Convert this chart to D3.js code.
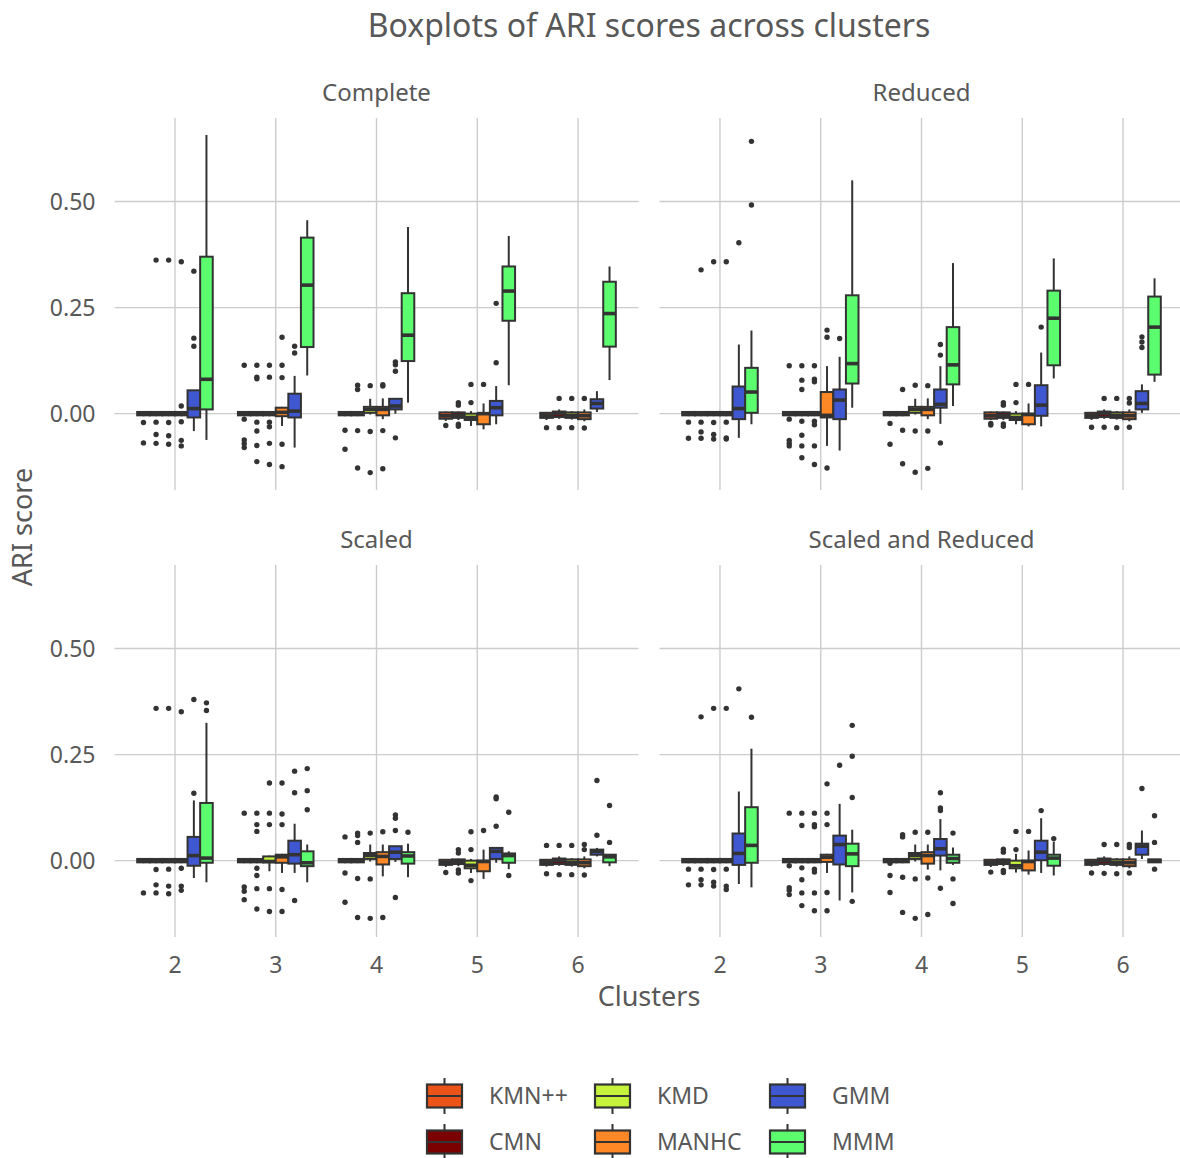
<!DOCTYPE html>
<html lang="en">
<head>
<meta charset="UTF-8">
<title>Boxplots of ARI scores across clusters</title>
<script src="https://d3js.org/d3.v7.min.js"></script>
<style>
    body { margin: 0; background: #fff; }
    text { font-family: "Noto Sans", sans-serif; fill: #585858; }
    .grid line { stroke: #cccccc; stroke-width: 1.4; }
</style>
</head>
<body>
<svg width="1180" height="1158"></svg>
<script>
const clusters = ["2", "3", "4", "5", "6"];
const methods = ["KMN++", "CMN", "KMD", "MANHC", "GMM", "MMM"];
const methodColors = ["#EC5318", "#7B0000", "#C5F23A", "#FF8826", "#3F58D2", "#5BFC6E"];
const panelNames = ["Complete", "Reduced", "Scaled", "Scaled and Reduced"];
const yTicks = [0, 0.25, 0.5];
const yTickLabels = ["0.00", "0.25", "0.50"];

// [cluster, method, lower whisker, q1, median, q3, upper whisker, outliers]
const complete = [
    ["2", "KMN++", -0.006, -0.004, 0, 0.004, 0.006, [-0.021, -0.069]],
    ["2", "CMN", -0.006, -0.004, 0, 0.004, 0.006, [0.362, -0.020, -0.049, -0.070]],
    ["2", "KMD", -0.006, -0.004, 0, 0.004, 0.006, [0.362, -0.021, -0.052, -0.072]],
    ["2", "MANHC", -0.006, -0.004, 0, 0.004, 0.006, [0.358, 0.018, -0.019, -0.063, -0.076]],
    ["2", "GMM", -0.041, -0.009, 0.012, 0.055, 0.055, [0.336, 0.178, 0.159]],
    ["2", "MMM", -0.062, 0.010, 0.081, 0.370, 0.657, []],
    ["3", "KMN++", -0.006, -0.004, 0, 0.004, 0.006, [0.114, -0.013, -0.062, -0.071, -0.080]],
    ["3", "CMN", -0.006, -0.004, 0, 0.004, 0.006, [0.114, 0.086, 0.082, -0.020, -0.041, -0.075, -0.113]],
    ["3", "KMD", -0.006, -0.004, 0, 0.004, 0.006, [0.114, 0.086, -0.020, -0.031, -0.070, -0.120]],
    ["3", "MANHC", -0.029, -0.006, 0.003, 0.014, 0.016, [0.180, 0.114, 0.085, -0.072, -0.125]],
    ["3", "GMM", -0.080, -0.009, 0.006, 0.047, 0.089, [0.159, 0.143]],
    ["3", "MMM", 0.090, 0.157, 0.303, 0.415, 0.456, []],
    ["4", "KMN++", -0.006, -0.004, 0, 0.004, 0.006, [-0.039, -0.084]],
    ["4", "CMN", -0.006, -0.004, 0, 0.004, 0.006, [0.067, 0.057, -0.040, -0.128]],
    ["4", "KMD", -0.002, 0.002, 0.010, 0.016, 0.035, [0.066, -0.042, -0.139]],
    ["4", "MANHC", -0.013, -0.004, 0.010, 0.016, 0.036, [0.068, 0.065, -0.040, -0.130]],
    ["4", "GMM", 0.000, 0.010, 0.018, 0.035, 0.035, [0.122, 0.115, 0.100, -0.057]],
    ["4", "MMM", 0.026, 0.124, 0.185, 0.284, 0.440, []],
    ["5", "KMN++", -0.017, -0.012, -0.005, 0.003, 0.005, [-0.028]],
    ["5", "CMN", -0.015, -0.010, -0.004, 0.003, 0.005, [0.026, 0.020, -0.025, -0.030]],
    ["5", "KMD", -0.029, -0.015, -0.009, 0.000, 0.006, [0.069, 0.026]],
    ["5", "MANHC", -0.037, -0.025, 0.000, 0.000, 0.024, [0.069]],
    ["5", "GMM", -0.025, -0.004, 0.014, 0.030, 0.065, [0.260, 0.120]],
    ["5", "MMM", 0.067, 0.219, 0.289, 0.347, 0.419, []],
    ["6", "KMN++", -0.015, -0.010, -0.004, 0.002, 0.004, [-0.033]],
    ["6", "CMN", -0.012, -0.008, 0.000, 0.005, 0.010, [0.036, -0.033]],
    ["6", "KMD", -0.014, -0.010, -0.004, 0.003, 0.006, [0.036, -0.033]],
    ["6", "MANHC", -0.018, -0.013, -0.005, 0.003, 0.010, [0.036, -0.034]],
    ["6", "GMM", 0.004, 0.012, 0.024, 0.034, 0.053, []],
    ["6", "MMM", 0.079, 0.158, 0.236, 0.311, 0.347, []]
];

const reduced = [
    ["2", "KMN++", -0.006, -0.004, 0, 0.004, 0.006, [-0.020, -0.058]],
    ["2", "CMN", -0.006, -0.004, 0, 0.004, 0.006, [0.339, -0.020, -0.043, -0.058]],
    ["2", "KMD", -0.006, -0.004, 0, 0.004, 0.006, [0.358, -0.021, -0.049, -0.060]],
    ["2", "MANHC", -0.006, -0.004, 0, 0.004, 0.006, [0.358, -0.020, -0.057, -0.060]],
    ["2", "GMM", -0.057, -0.013, 0.012, 0.064, 0.163, [0.403]],
    ["2", "MMM", -0.025, 0.002, 0.051, 0.108, 0.196, [0.642, 0.492]],
    ["3", "KMN++", -0.006, -0.004, 0, 0.004, 0.006, [0.113, -0.013, -0.063, -0.070, -0.076]],
    ["3", "CMN", -0.006, -0.004, 0, 0.004, 0.006, [0.113, 0.079, 0.057, -0.018, -0.051, -0.076, -0.104]],
    ["3", "KMD", -0.006, -0.004, 0, 0.004, 0.006, [0.113, 0.081, 0.075, -0.018, -0.026, -0.076, -0.120]],
    ["3", "MANHC", -0.076, -0.009, -0.004, 0.051, 0.112, [0.197, 0.180, -0.128]],
    ["3", "GMM", -0.087, -0.013, 0.032, 0.057, 0.134, [0.177]],
    ["3", "MMM", 0.014, 0.071, 0.118, 0.279, 0.550, []],
    ["4", "KMN++", -0.006, -0.004, 0, 0.004, 0.006, [-0.023, -0.072]],
    ["4", "CMN", -0.006, -0.004, 0, 0.004, 0.006, [0.057, -0.039, -0.118]],
    ["4", "KMD", -0.002, 0.002, 0.010, 0.016, 0.035, [0.067, -0.041, -0.138]],
    ["4", "MANHC", -0.013, -0.004, 0.010, 0.016, 0.036, [0.066, -0.041, -0.129]],
    ["4", "GMM", -0.024, 0.014, 0.022, 0.057, 0.112, [0.163, 0.138, -0.069]],
    ["4", "MMM", 0.018, 0.069, 0.115, 0.204, 0.355, []],
    ["5", "KMN++", -0.015, -0.012, -0.005, 0.003, 0.005, [-0.023, -0.027]],
    ["5", "CMN", -0.015, -0.010, -0.004, 0.003, 0.005, [0.026, 0.020, -0.024, -0.030]],
    ["5", "KMD", -0.025, -0.015, -0.009, 0.000, 0.006, [0.069, 0.026]],
    ["5", "MANHC", -0.030, -0.025, -0.002, 0.000, 0.024, [0.069]],
    ["5", "GMM", -0.030, -0.005, 0.020, 0.067, 0.144, [0.204]],
    ["5", "MMM", 0.083, 0.114, 0.225, 0.290, 0.366, []],
    ["6", "KMN++", -0.015, -0.010, -0.004, 0.002, 0.004, [-0.032]],
    ["6", "CMN", -0.012, -0.008, 0.000, 0.005, 0.010, [0.036, -0.032]],
    ["6", "KMD", -0.014, -0.010, -0.004, 0.003, 0.006, [0.036, -0.033]],
    ["6", "MANHC", -0.018, -0.013, -0.005, 0.003, 0.010, [0.036, 0.025, -0.032]],
    ["6", "GMM", 0.002, 0.010, 0.024, 0.053, 0.069, [0.181, 0.169, 0.156]],
    ["6", "MMM", 0.075, 0.092, 0.204, 0.276, 0.319, []]
];

const scaled = [
    ["2", "KMN++", -0.006, -0.004, 0, 0.004, 0.006, [-0.076]],
    ["2", "CMN", -0.006, -0.004, 0, 0.004, 0.006, [0.359, -0.021, -0.057, -0.076]],
    ["2", "KMD", -0.006, -0.004, 0, 0.004, 0.006, [0.359, -0.020, -0.060, -0.078]],
    ["2", "MANHC", -0.006, -0.004, 0, 0.004, 0.006, [0.351, -0.018, -0.060, -0.070]],
    ["2", "GMM", -0.041, -0.012, 0.012, 0.056, 0.142, [0.380, 0.159]],
    ["2", "MMM", -0.051, -0.005, 0.006, 0.136, 0.325, [0.372, 0.354]],
    ["3", "KMN++", -0.006, -0.004, 0, 0.004, 0.006, [0.112, -0.062, -0.072, -0.092]],
    ["3", "CMN", -0.006, -0.004, 0, 0.004, 0.006, [0.112, 0.085, 0.069, -0.018, -0.035, -0.066, -0.114]],
    ["3", "KMD", -0.025, -0.004, -0.002, 0.010, 0.012, [0.183, 0.112, 0.085, -0.066, -0.120]],
    ["3", "MANHC", -0.029, -0.005, 0.009, 0.014, 0.016, [0.183, 0.110, 0.085, -0.068, -0.120]],
    ["3", "GMM", -0.029, -0.007, 0.014, 0.047, 0.087, [0.211, 0.160, -0.094]],
    ["3", "MMM", -0.051, -0.013, -0.005, 0.022, 0.038, [0.217, 0.165, 0.120]],
    ["4", "KMN++", -0.006, -0.004, 0, 0.004, 0.006, [0.056, -0.029, -0.098]],
    ["4", "CMN", -0.006, -0.004, 0, 0.004, 0.006, [0.065, 0.059, 0.043, -0.042, -0.134]],
    ["4", "KMD", -0.002, 0.004, 0.012, 0.018, 0.038, [0.065, -0.043, -0.136]],
    ["4", "MANHC", -0.037, -0.009, 0.010, 0.020, 0.038, [0.068, -0.134]],
    ["4", "GMM", -0.003, 0.004, 0.020, 0.034, 0.034, [0.108, 0.100, 0.071, -0.087]],
    ["4", "MMM", -0.039, -0.007, 0.011, 0.020, 0.040, [0.067]],
    ["5", "KMN++", -0.015, -0.010, -0.004, 0.002, 0.004, [-0.028]],
    ["5", "CMN", -0.013, -0.008, -0.002, 0.003, 0.005, [0.026, 0.018, -0.022, -0.029]],
    ["5", "KMD", -0.029, -0.018, -0.011, 0.000, 0.004, [0.068, 0.026, -0.047]],
    ["5", "MANHC", -0.043, -0.025, -0.002, 0.000, 0.026, [0.071]],
    ["5", "GMM", -0.005, 0.004, 0.022, 0.030, 0.030, [0.150, 0.146, 0.081]],
    ["5", "MMM", -0.020, -0.005, 0.012, 0.017, 0.022, [0.114, -0.035]],
    ["6", "KMN++", -0.014, -0.010, -0.004, 0.002, 0.004, [0.036, -0.031]],
    ["6", "CMN", -0.012, -0.008, 0.000, 0.005, 0.010, [0.036, -0.033]],
    ["6", "KMD", -0.014, -0.010, -0.004, 0.003, 0.006, [0.036, -0.033]],
    ["6", "MANHC", -0.018, -0.013, -0.005, 0.003, 0.010, [0.038, 0.026, -0.034]],
    ["6", "GMM", 0.010, 0.014, 0.022, 0.026, 0.030, [0.189, 0.060]],
    ["6", "MMM", -0.013, -0.004, 0.009, 0.014, 0.014, [0.130, 0.043]]
];

const scaledReduced = [
    ["2", "KMN++", -0.006, -0.004, 0, 0.004, 0.006, [-0.020, -0.057]],
    ["2", "CMN", -0.006, -0.004, 0, 0.004, 0.006, [0.339, -0.020, -0.045, -0.057]],
    ["2", "KMD", -0.006, -0.004, 0, 0.004, 0.006, [0.359, -0.021, -0.051, -0.060]],
    ["2", "MANHC", -0.006, -0.004, 0, 0.004, 0.006, [0.359, -0.020, -0.060, -0.068]],
    ["2", "GMM", -0.055, -0.010, 0.017, 0.064, 0.163, [0.405]],
    ["2", "MMM", -0.063, -0.005, 0.036, 0.126, 0.264, [0.338]],
    ["3", "KMN++", -0.006, -0.004, 0, 0.004, 0.006, [0.112, -0.012, -0.064, -0.070, -0.080]],
    ["3", "CMN", -0.006, -0.004, 0, 0.004, 0.006, [0.112, 0.083, -0.017, -0.045, -0.076, -0.106]],
    ["3", "KMD", -0.006, -0.004, 0, 0.004, 0.006, [0.112, 0.085, 0.080, -0.020, -0.027, -0.076, -0.118]],
    ["3", "MANHC", -0.029, -0.003, 0.008, 0.014, 0.016, [0.181, 0.112, 0.085, -0.075, -0.118]],
    ["3", "GMM", -0.094, -0.009, 0.038, 0.059, 0.134, [0.225]],
    ["3", "MMM", -0.075, -0.013, 0.016, 0.040, 0.073, [0.319, 0.246, 0.149, -0.096]],
    ["4", "KMN++", -0.006, -0.004, 0, 0.004, 0.006, [-0.006, -0.035, -0.075]],
    ["4", "CMN", -0.006, -0.004, 0, 0.004, 0.006, [0.061, 0.056, -0.039, -0.122]],
    ["4", "KMD", -0.002, 0.004, 0.012, 0.018, 0.038, [0.067, -0.043, -0.136]],
    ["4", "MANHC", -0.021, -0.007, 0.012, 0.020, 0.038, [0.067, -0.041, -0.127]],
    ["4", "GMM", -0.023, 0.012, 0.028, 0.051, 0.098, [0.160, 0.124, 0.118, -0.065]],
    ["4", "MMM", -0.010, -0.005, 0.005, 0.014, 0.031, [0.065, -0.043, -0.101]],
    ["5", "KMN++", -0.015, -0.010, -0.004, 0.002, 0.004, [-0.027]],
    ["5", "CMN", -0.013, -0.008, -0.002, 0.003, 0.005, [0.027, 0.020, -0.023, -0.028]],
    ["5", "KMD", -0.028, -0.018, -0.012, 0.000, 0.016, [0.069, 0.026]],
    ["5", "MANHC", -0.033, -0.023, -0.002, 0.000, 0.024, [0.069]],
    ["5", "GMM", -0.029, 0.001, 0.020, 0.047, 0.100, [0.118]],
    ["5", "MMM", -0.035, -0.012, 0.006, 0.014, 0.045, [0.052]],
    ["6", "KMN++", -0.014, -0.010, -0.004, 0.002, 0.004, [-0.029]],
    ["6", "CMN", -0.012, -0.008, 0.000, 0.005, 0.010, [0.038, -0.030]],
    ["6", "KMD", -0.014, -0.010, -0.004, 0.003, 0.006, [0.038, -0.031]],
    ["6", "MANHC", -0.018, -0.013, -0.005, 0.003, 0.010, [0.038, 0.031, -0.029]],
    ["6", "GMM", 0.004, 0.014, 0.034, 0.040, 0.071, [0.170]],
    ["6", "MMM", -0.004, -0.004, 0.000, 0.003, 0.003, [0.106, 0.043, -0.020]]
];

const panelData = [complete, reduced, scaled, scaledReduced];

const svg = d3.select("svg");
svg.append("rect").attr("width", 1180).attr("height", 1158).attr("fill", "#fff");

const panelW = 524, panelH = 372;
const colX = [114.5, 659.5];
const rowY = [118, 565];

const x = d3.scalePoint().domain(clusters).range([0, panelW]).padding(0.6);
const step = x.step();
const dodge = d3.scaleBand().domain(methods).range([-0.375 * step, 0.375 * step]);
const bw = dodge.bandwidth();
const y = d3.scaleLinear().domain([-0.18, 0.697]).range([panelH, 0]);
const color = d3.scaleOrdinal().domain(methods).range(methodColors);

const lineCol = "#333333";
const lw = 2;

panelData.forEach((rows, i) => {
    const col = i % 2, row = Math.floor(i / 2);
    const g = svg.append("g").attr("transform", `translate(${colX[col]},${rowY[row]})`);

    // gridlines
    const grid = g.append("g").attr("class", "grid");
    grid.selectAll("line.h").data(yTicks).enter().append("line")
        .attr("x1", 0).attr("x2", panelW)
        .attr("y1", d => y(d)).attr("y2", d => y(d));
    grid.selectAll("line.v").data(clusters).enter().append("line")
        .attr("x1", d => x(d)).attr("x2", d => x(d))
        .attr("y1", 0).attr("y2", panelH);

    // strip label
    g.append("text")
        .attr("x", panelW / 2).attr("y", -17)
        .attr("text-anchor", "middle")
        .attr("font-size", 24)
        .text(panelNames[i]);

    const boxes = g.selectAll("g.box").data(rows).enter().append("g")
        .attr("class", "box")
        .attr("transform", d => `translate(${x(d[0]) + dodge(d[1])},0)`);

    // whiskers
    boxes.append("line")
        .attr("x1", bw / 2).attr("x2", bw / 2)
        .attr("y1", d => y(d[6])).attr("y2", d => y(d[5]))
        .attr("stroke", lineCol).attr("stroke-width", lw);
    boxes.append("line")
        .attr("x1", bw / 2).attr("x2", bw / 2)
        .attr("y1", d => y(d[3])).attr("y2", d => y(d[2]))
        .attr("stroke", lineCol).attr("stroke-width", lw);

    boxes.append("rect")
        .attr("x", 0).attr("width", bw)
        .attr("y", d => y(d[5]))
        .attr("height", d => Math.max(0.5, y(d[3]) - y(d[5])))
        .attr("fill", d => color(d[1]))
        .attr("stroke", lineCol).attr("stroke-width", lw);

    boxes.append("line")
        .attr("x1", 0).attr("x2", bw)
        .attr("y1", d => y(d[4])).attr("y2", d => y(d[4]))
        .attr("stroke", lineCol).attr("stroke-width", 3.6);

    boxes.selectAll("circle").data(d => d[7]).enter().append("circle")
        .attr("cx", bw / 2)
        .attr("cy", d => y(d))
        .attr("r", 2.7)
        .attr("fill", lineCol);

    // y tick labels on left column
    if (col === 0) {
        g.selectAll("text.ytick").data(yTicks).enter().append("text")
            .attr("class", "ytick")
            .attr("x", -19).attr("y", d => y(d))
            .attr("dy", "0.36em")
            .attr("text-anchor", "end")
            .attr("font-size", 23)
            .text((d, k) => yTickLabels[k]);
    }
    // x tick labels on bottom row
    if (row === 1) {
        g.selectAll("text.xtick").data(clusters).enter().append("text")
            .attr("class", "xtick")
            .attr("x", d => x(d)).attr("y", panelH + 28)
            .attr("dy", "0.36em")
            .attr("text-anchor", "middle")
            .attr("font-size", 23)
            .text(d => d);
    }
});

// titles
svg.append("text")
    .attr("x", 649).attr("y", 37)
    .attr("text-anchor", "middle")
    .attr("font-size", 32)
    .text("Boxplots of ARI scores across clusters");

svg.append("text")
    .attr("x", 649).attr("y", 1006)
    .attr("text-anchor", "middle")
    .attr("font-size", 27)
    .text("Clusters");

svg.append("text")
    .attr("transform", "translate(32,527) rotate(-90)")
    .attr("text-anchor", "middle")
    .attr("font-size", 27)
    .text("ARI score");

// legend
const legendColX = [427, 595, 770];
const legendRowY = [1096, 1142];
const legend = svg.append("g");
methods.forEach((m, k) => {
    const c = Math.floor(k / 2), r = k % 2;
    const kx = legendColX[c], ky = legendRowY[r];
    const item = legend.append("g").attr("transform", `translate(${kx},${ky})`);
    item.append("line").attr("x1", 17.5).attr("x2", 17.5).attr("y1", -18).attr("y2", 18)
        .attr("stroke", lineCol).attr("stroke-width", 2);
    item.append("rect").attr("x", 0).attr("y", -11.5).attr("width", 35).attr("height", 23)
        .attr("fill", color(m)).attr("stroke", lineCol).attr("stroke-width", 2.2);
    item.append("line").attr("x1", 0).attr("x2", 35).attr("y1", 0).attr("y2", 0)
        .attr("stroke", lineCol).attr("stroke-width", 2);
    item.append("text").attr("x", 62).attr("y", 0).attr("dy", "0.36em")
        .attr("font-size", 23)
        .text(m);
});
</script>
</body>
</html>
